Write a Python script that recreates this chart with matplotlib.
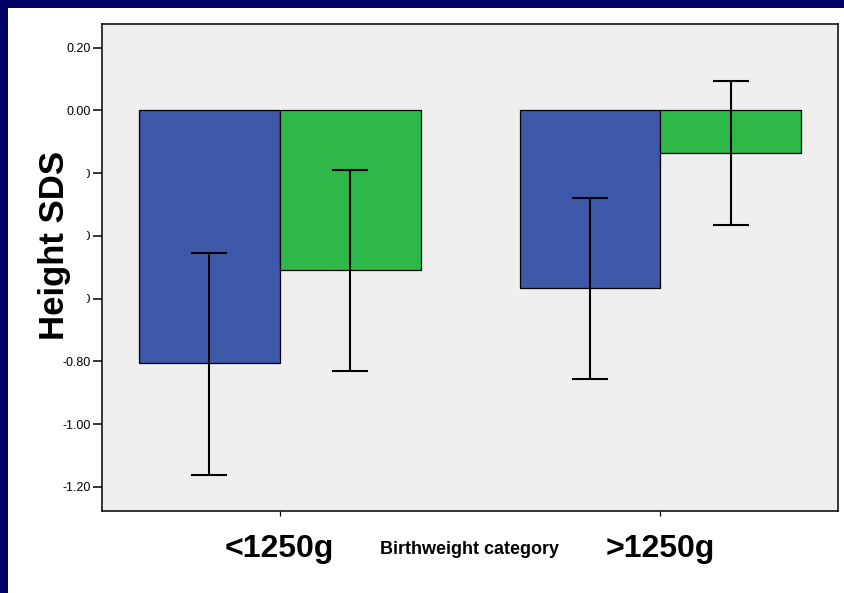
import matplotlib
matplotlib.use("Agg")
import matplotlib.pyplot as plt
import matplotlib.patches as mpatches
import numpy as np

plt.rcParams['font.family'] = ['Liberation Sans', 'DejaVu Sans']

# group means with 95% CI bounds (Height SDS)
categories = ['<1250g', '>1250g']
blue_mean = [-0.806, -0.566]
blue_lo = [-1.162, -0.856]
blue_hi = [-0.455, -0.279]
green_mean = [-0.508, -0.135]
green_lo = [-0.830, -0.366]
green_hi = [-0.191, 0.095]
yticks = [-1.20, -1.00, -0.80, -0.60, -0.40, -0.20, 0.00, 0.20]

W, H = 844, 593
fig = plt.figure(figsize=(W / 100, H / 100), dpi=100)
fig.patch.set_facecolor('white')

# dark slide frame, left and top
fig.patches.append(mpatches.Rectangle((0, 0), 8 / W, 1, transform=fig.transFigure,
                                      facecolor='#000066', edgecolor='none', zorder=0))
fig.patches.append(mpatches.Rectangle((0, 1 - 8 / H), 1, 8 / H, transform=fig.transFigure,
                                      facecolor='#000066', edgecolor='none', zorder=0))

l, r, t, b = 102, 837.7, 23.5, 511
ax = fig.add_axes([l / W, 1 - b / H, (r - l) / W, (b - t) / H])
ax.set_facecolor('#EFEFEF')

x = np.arange(len(categories))
bw = 0.37
blue_err = [np.array(blue_mean) - np.array(blue_lo), np.array(blue_hi) - np.array(blue_mean)]
green_err = [np.array(green_mean) - np.array(green_lo), np.array(green_hi) - np.array(green_mean)]

ax.bar(x - bw / 2, blue_mean, bw, color='#3D58A9', edgecolor='black', linewidth=0.9, zorder=2)
ax.bar(x + bw / 2, green_mean, bw, color='#2EB84A', edgecolor='black', linewidth=0.9, zorder=2)
ax.errorbar(x - bw / 2, blue_mean, yerr=blue_err, fmt='none', ecolor='black',
            elinewidth=1.5, capsize=13, capthick=1.5, zorder=3)
ax.errorbar(x + bw / 2, green_mean, yerr=green_err, fmt='none', ecolor='black',
            elinewidth=1.5, capsize=13, capthick=1.5, zorder=3)

ax.set_xlim(-0.467, 1.466)
ax.set_ylim(-1.277, 0.2767)
ax.set_yticks(yticks)
ax.set_yticklabels(['%.2f' % v for v in yticks], fontsize=9)
ax.set_xticks(x)
ax.set_xticklabels(categories, fontsize=23, fontweight='bold')

for s in ax.spines.values():
    s.set_linewidth(1.1)
ax.tick_params(axis='y', direction='out', length=6.5, width=1.1, pad=1.5)
ax.tick_params(axis='x', direction='out', length=3.6, width=0.9, pad=13)

# the label's white box sits over the middle tick labels
ax.set_ylabel('Height SDS', fontsize=25, fontweight='bold',
              bbox=dict(facecolor='white', edgecolor='none', pad=11.5))
ax.yaxis.set_label_coords((71 - l) / (r - l), (b - 245) / (b - t))

fig.text(((l + r) / 2) / W, 1 - 549 / H, 'Birthweight category', fontsize=13,
         fontweight='bold', ha='center', va='center')

fig.savefig('out.png', dpi=100)
